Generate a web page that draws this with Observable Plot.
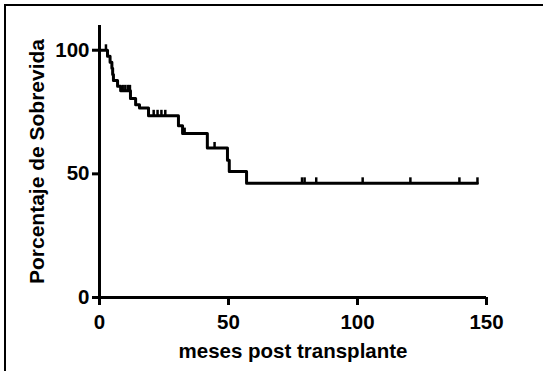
<!DOCTYPE html>
<html>
<head>
<meta charset="utf-8">
<script src="https://cdn.jsdelivr.net/npm/d3@7"></script>
<script src="https://cdn.jsdelivr.net/npm/@observablehq/plot@0.6"></script>
<style>
  html, body { margin: 0; padding: 0; background: #fff; }
  #wrap { position: relative; width: 543px; height: 371px; overflow: hidden; }
  #frame { position: absolute; left: 4px; top: 4px; width: 545px; height: 375px;
           border-top: 2px solid #000; border-left: 2px solid #000; pointer-events: none; }
</style>
</head>
<body>
<div id="wrap"><div id="frame"></div></div>
<script>
// Kaplan-Meier steps (months, % survival)
const eventTimes = [0, 3.1, 4.1, 4.8, 5.1, 5.4, 7, 8.2, 12, 14, 15.5, 19, 30.6, 32.2, 41.8, 49.6, 50.3, 57, 146.5];
const survival   = [100, 97.6, 95.1, 92.7, 90.2, 87.8, 85.4, 83.6, 80.5, 78.0, 76.6, 73.5, 69.5, 66.3, 60.5, 55.5, 51.0, 46.2, 46.2];

// censored observations
const censorTimes = [2.5, 9, 10, 11, 11.8, 21, 22.5, 24, 25.5, 33, 44.6, 78.5, 79.5, 84, 102, 120.5, 139.5, 146.5];
const censorSurv  = [100, 83.6, 83.6, 83.6, 83.6, 73.5, 73.5, 73.5, 73.5, 66.3, 60.5, 46.2, 46.2, 46.2, 46.2, 46.2, 46.2, 46.2];

const xTicks = [0, 50, 100, 150];
const yTicks = [0, 50, 100];
const xLabel = "meses post transplante";
const yLabel = "Porcentaje de Sobrevida";

const curve = eventTimes.map((t, i) => ({t, s: survival[i]}));
const censors = censorTimes.map((t, i) => ({t, s: censorSurv[i]}));

const chart = Plot.plot({
  width: 543,
  height: 371,
  marginLeft: 99,
  marginRight: 57,
  marginTop: 25,
  marginBottom: 74,
  style: {fontFamily: "'Liberation Sans', Arial, sans-serif", fontSize: "20px", fontWeight: "bold", color: "#000", background: "transparent"},
  x: {domain: [0, 150]},
  y: {domain: [0, 110]},
  marks: [
    Plot.axisX({ticks: xTicks, tickSize: 8, tickPadding: 9, strokeWidth: 3, fontSize: 20.5, label: null}),
    Plot.axisY({ticks: yTicks, tickSize: 7, tickPadding: 3, strokeWidth: 3, fontSize: 20.5, label: null}),
    Plot.axisX({ticks: [], label: xLabel, labelAnchor: "center", labelArrow: "none", labelOffset: 60, fontSize: 20.5}),
    Plot.axisY({ticks: [], label: yLabel, labelAnchor: "center", labelArrow: "none", labelOffset: 70, fontSize: 21}),
    Plot.ruleX([0], {strokeWidth: 3}),
    Plot.ruleY([0], {strokeWidth: 3}),
    Plot.line(curve, {x: "t", y: "s", curve: "step-after", strokeWidth: 3, stroke: "#000"}),
    Plot.ruleX(censors, {x: "t", y1: "s", y2: d => d.s + 2.2, strokeWidth: 2.5, stroke: "#000"})
  ]
});
document.getElementById("wrap").insertBefore(chart, document.getElementById("frame"));
</script>
</body>
</html>
